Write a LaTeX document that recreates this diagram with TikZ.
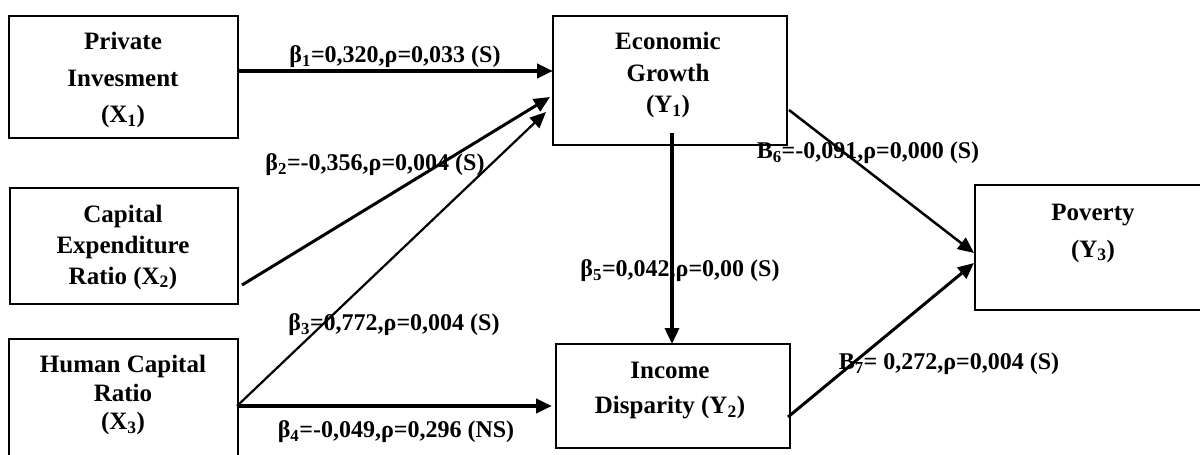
\documentclass[tikz,border=0pt]{standalone}
\usepackage{fontspec}
\setmainfont{Liberation Serif}
\usetikzlibrary{arrows.meta}
\tikzset{
  box/.style={draw=black, line width=1.6pt, minimum width=#1, inner sep=0pt},
  boxtext/.style={align=center, font=\bfseries\fontsize{25}{#1}\selectfont, inner sep=0pt},
  lbl/.style={font=\bfseries\fontsize{24}{26}\selectfont, inner sep=0pt},
  arr/.style={line width=#1, -{Triangle[length=16pt,width=14pt]}},
}
\begin{document}
\begin{tikzpicture}[x=1pt,y=-1pt]
\useasboundingbox (0,0) rectangle (1200,455);
\clip (0,0) rectangle (1200,455);
% boxes
\node[box=229pt, minimum height=122pt] (x1) at (123.5,77) {};
\node[box=228pt, minimum height=116pt] (x2) at (124,246) {};
\node[box=229pt, minimum height=124pt] (x3) at (123.5,401) {};
\node[box=234pt, minimum height=129pt] (y1) at (670,80.5) {};
\node[box=234pt, minimum height=104pt] (y2) at (673,396) {};
\node[box=232pt, minimum height=125pt] (y3) at (1091,247.5) {};
% box texts
\node[boxtext=36.5pt] (x1t) at (123,80) {Private\\Invesment\\(X\textsubscript{1})};
\node[boxtext=31pt] (x2t) at (123,247) {Capital\\Expenditure\\Ratio (X\textsubscript{2})};
\node[boxtext=28.5pt] (x3t) at (123,395) {Human Capital\\Ratio\\(X\textsubscript{3})};
\node[boxtext=31.5pt] (y1t) at (668,75) {Economic\\Growth\\(Y\textsubscript{1})};
\node[boxtext=35pt] (y2t) at (670,391) {Income\\Disparity (Y\textsubscript{2})};
\node[boxtext=37pt] (y3t) at (1093,233) {Poverty\\(Y\textsubscript{3})};
% connector end points
\coordinate (a1s) at (238,71);   \coordinate (a1e) at (553,71);
\coordinate (a2s) at (242,285);  \coordinate (a2e) at (550,97);
\coordinate (a3s) at (237,406);  \coordinate (a3e) at (546,112);
\coordinate (a4e) at (552,406);
\coordinate (a5s) at (672,133);  \coordinate (a5e) at (672,344);
\coordinate (a6s) at (789,110);  \coordinate (a6e) at (974,253);
\coordinate (a7s) at (788,417);  \coordinate (a7e) at (974,263);
% connectors
\draw[arr=4pt] (a1s) -- (a1e);
\draw[arr=3pt] (a2s) -- (a2e);
\draw[arr=2.2pt] (a3s) -- (a3e);
\draw[arr=4pt] (a3s) -- (a4e);
\draw[arr=3.5pt] (a5s) -- (a5e);
\draw[arr=2.5pt] (a6s) -- (a6e);
\draw[arr=3pt] (a7s) -- (a7e);
% labels
\node[lbl] (l1) at (395,57) {β\textsubscript{1}=0,320,ρ=0,033 (S)};
\node[lbl] (l2) at (375,165) {β\textsubscript{2}=-0,356,ρ=0,004 (S)};
\node[lbl] (l3) at (394,325) {β\textsubscript{3}=0,772,ρ=0,004 (S)};
\node[lbl] (l4) at (396,432) {β\textsubscript{4}=-0,049,ρ=0,296 (NS)};
\node[lbl] (l5) at (680,271) {β\textsubscript{5}=0,042,ρ=0,00 (S)};
\node[lbl] (l6) at (868,153) {B\textsubscript{6}=-0,091,ρ=0,000 (S)};
\node[lbl] (l7) at (949,364) {B\textsubscript{7}= 0,272,ρ=0,004 (S)};
\end{tikzpicture}
\end{document}
